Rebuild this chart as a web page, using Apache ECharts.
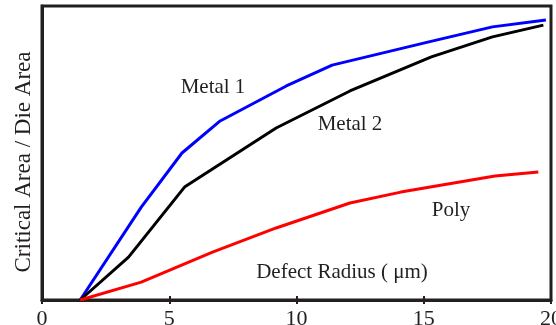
<!DOCTYPE html>
<html>
<head>
<meta charset="utf-8">
<script src="https://cdn.jsdelivr.net/npm/echarts@6/dist/echarts.min.js"></script>
<style>
  html, body { margin: 0; padding: 0; background: #fff; }
  #chart { width: 556px; height: 325px; }
</style>
</head>
<body>
<div id="chart"></div>
<script>
// data (x: defect radius in um, y: relative critical area)
const xTicks = [0, 5, 10, 15, 20];

const metal1X = [1.5, 3.9, 5.5, 7.0, 9.6, 11.4, 15.2, 17.7, 19.8];
const metal1Y = [0, 0.316, 0.50, 0.609, 0.728, 0.799, 0.878, 0.929, 0.952];

const metal2X = [1.5, 3.4, 5.6, 9.2, 12.1, 15.3, 17.7, 19.7];
const metal2Y = [0, 0.146, 0.384, 0.585, 0.711, 0.827, 0.895, 0.935];

const polyX = [1.5, 3.9, 6.7, 9.2, 12.1, 14.1, 17.8, 19.5];
const polyY = [0, 0.061, 0.163, 0.245, 0.330, 0.367, 0.422, 0.435];

const labels = {
  metal1: "Metal 1",
  metal2: "Metal 2",
  poly: "Poly",
  xName: "Defect Radius ( \u03bcm)",
  yName: "Critical Area / Die Area"
};

const zip = (xs, ys) => xs.map((x, i) => [x, ys[i]]);

const chart = echarts.init(document.getElementById("chart"), null, { renderer: "canvas" });

const font = "'Liberation Serif', 'Times New Roman', serif";
const frame = "#231f20";
const textColor = "#231f20";

const lineSeries = (name, xs, ys, color) => ({
  name: name,
  type: "line",
  data: zip(xs, ys),
  showSymbol: false,
  smooth: false,
  lineStyle: { color: color, width: 3 },
  itemStyle: { color: color },
  z: 3
});

const textEl = (text, x, y, size, extra) => Object.assign({
  type: "text",
  x: x, y: y,
  style: {
    text: text, font: size + "px " + font, fill: textColor,
    align: "center", verticalAlign: "middle"
  }
}, extra || {});

const option = {
  animation: false,
  backgroundColor: "#fff",
  grid: {
    left: 42, right: 5, top: 6, bottom: 25,
    containLabel: false,
    outerBoundsMode: "none",
    show: true,
    borderColor: frame,
    borderWidth: 3,
    backgroundColor: "transparent"
  },
  xAxis: [
    {
      type: "value",
      min: 0, max: 20, interval: 5,
      axisLine: { show: true, lineStyle: { color: frame, width: 3 } },
      axisTick: { show: true, inside: false, length: 4, lineStyle: { color: frame, width: 2 } },
      axisLabel: {
        color: textColor, fontFamily: font, fontSize: 22, margin: 8,
        formatter: (v) => (xTicks.includes(v) ? String(v) : "")
      },
      splitLine: { show: false }
    },
    {
      type: "value",
      position: "bottom",
      min: 0, max: 20, interval: 5,
      axisLine: { show: false },
      axisTick: { show: true, inside: true, length: 4, lineStyle: { color: frame, width: 2 } },
      axisLabel: { show: false },
      splitLine: { show: false }
    }
  ],
  yAxis: {
    type: "value",
    min: 0, max: 1,
    axisLine: { show: true, lineStyle: { color: frame, width: 3 } },
    axisTick: { show: false },
    axisLabel: { show: false },
    splitLine: { show: false }
  },
  series: [
    lineSeries(labels.metal1, metal1X, metal1Y, "#0000ff"),
    lineSeries(labels.metal2, metal2X, metal2Y, "#000000"),
    lineSeries(labels.poly, polyX, polyY, "#ff0000")
  ],
  graphic: [
    textEl(labels.metal1, 213, 87, 21),
    textEl(labels.metal2, 350, 124, 21),
    textEl(labels.poly, 451, 210, 21),
    textEl(labels.xName, 342, 272, 21),
    textEl(labels.yName, 24, 162, 23, { rotation: Math.PI / 2 })
  ]
};

chart.setOption(option);
window.addEventListener("resize", () => chart.resize());
</script>
</body>
</html>
